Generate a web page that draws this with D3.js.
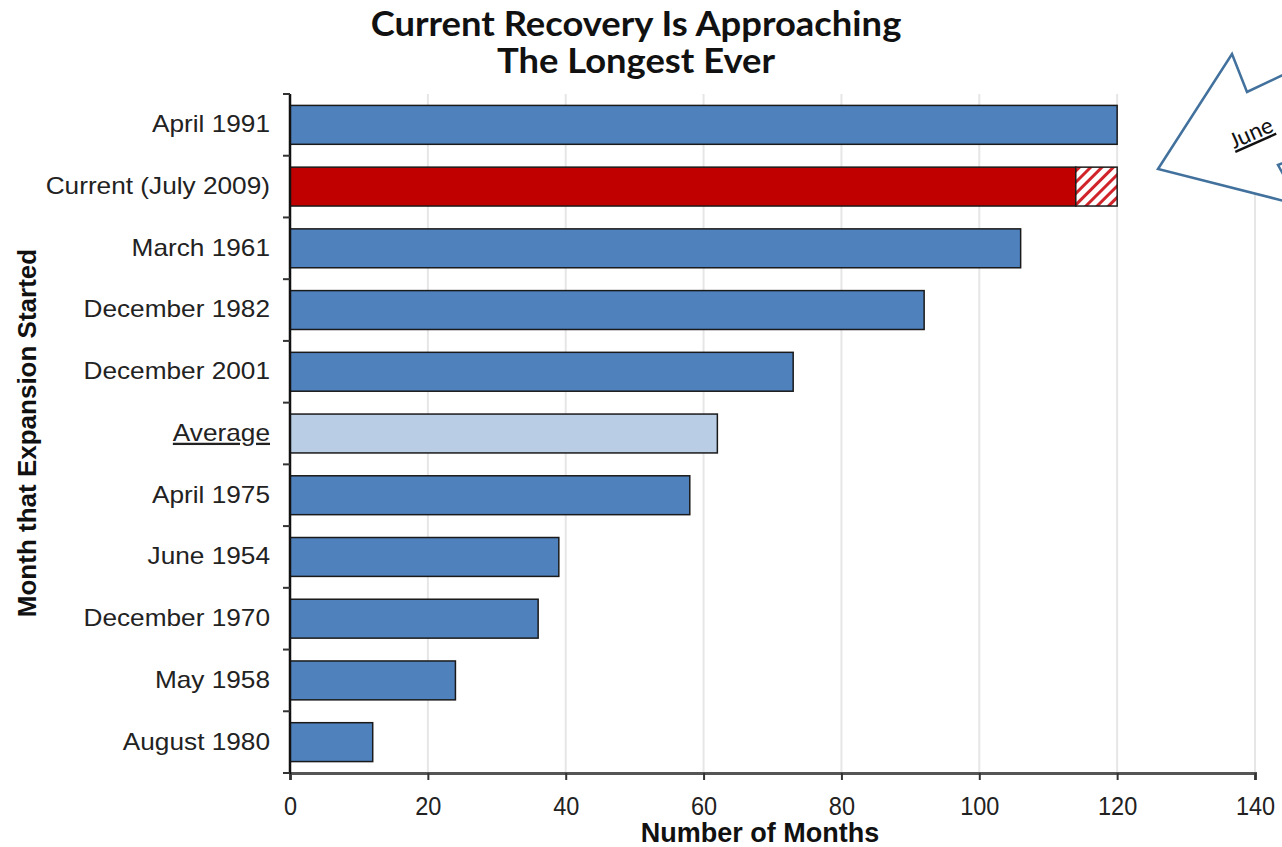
<!DOCTYPE html>
<html>
<head>
<meta charset="utf-8">
<script src="https://cdn.jsdelivr.net/npm/d3@7"></script>
<style>
  html, body { margin: 0; padding: 0; background: #fff; }
  svg { display: block; }
</style>
</head>
<body>
<svg id="chart" width="1282" height="847"></svg>
<script>
// data
var categories = ["April 1991", "Current (July 2009)", "March 1961", "December 1982",
  "December 2001", "Average", "April 1975", "June 1954", "December 1970", "May 1958", "August 1980"];
var months = [120, 114, 106, 92, 73, 62, 58, 39, 36, 24, 12];
var currentProjected = 120; // hatched part of the current bar
var xTicks = [0, 20, 40, 60, 80, 100, 120, 140];
var titleLines = ["Current Recovery Is Approaching", "The Longest Ever"];

var svg = d3.select("#chart");
var W = 1282, H = 847;
svg.append("rect").attr("width", W).attr("height", H).attr("fill", "#fff");

var x = d3.scaleLinear().domain([0, 140]).range([290, 1255]);
var y = d3.scaleBand().domain(categories).range([94, 773])
  .paddingInner(0.37).paddingOuter(0.185);

// hatch pattern
var defs = svg.append("defs");
var pat = defs.append("pattern").attr("id", "hatch")
  .attr("patternUnits", "userSpaceOnUse").attr("width", 8).attr("height", 8)
  .attr("patternTransform", "rotate(45)");
pat.append("rect").attr("width", 8).attr("height", 8).attr("fill", "#fff");
pat.append("rect").attr("x", 0).attr("width", 3).attr("height", 8).attr("fill", "#d0232a");

// gridlines
svg.append("g").selectAll("line").data(xTicks.slice(1)).enter().append("line")
  .attr("x1", function(d) { return x(d); }).attr("x2", function(d) { return x(d); })
  .attr("y1", 94).attr("y2", 773)
  .attr("stroke", "#e6e6e6").attr("stroke-width", 2);

function barColor(c) {
  if (c.indexOf("Current") === 0) return "#c00000";
  if (c === "Average") return "#b9cde5";
  return "#4f81bd";
}

// bars
svg.append("g").selectAll("rect").data(categories).enter().append("rect")
  .attr("x", x(0))
  .attr("y", function(d) { return y(d); })
  .attr("width", function(d, i) { return x(months[i]) - x(0); })
  .attr("height", y.bandwidth())
  .attr("fill", barColor)
  .attr("stroke", "#1a1a1a").attr("stroke-width", 1.5);

// projected hatch on current bar
var cur = categories[1];
svg.append("rect")
  .attr("x", x(months[1])).attr("y", y(cur))
  .attr("width", x(currentProjected) - x(months[1])).attr("height", y.bandwidth())
  .attr("fill", "url(#hatch)").attr("stroke", "#1a1a1a").attr("stroke-width", 1.5);

// x axis
var xAxis = svg.append("g").attr("transform", "translate(0,773)")
  .call(d3.axisBottom(x).tickValues(xTicks).tickSize(7).tickPadding(17));
xAxis.select(".domain").attr("stroke", "#555").attr("stroke-width", 3);
xAxis.selectAll(".tick line").attr("stroke", "#333").attr("stroke-width", 2);
xAxis.selectAll(".tick text")
  .attr("font-family", "Liberation Sans, Arial, sans-serif")
  .attr("font-size", 25).attr("fill", "#222")
  .attr("transform", "scale(0.94,1)");

// y axis labels (source text is a bit wider than Arial)
var sx = 1.14;
var yAxis = svg.append("g").attr("transform", "translate(290,0)")
  .call(d3.axisLeft(y).tickSize(0).tickPadding(20));
yAxis.select(".domain").remove();
yAxis.selectAll(".tick text")
  .attr("x", -20 / sx)
  .attr("transform", "scale(" + sx + ",1)")
  .attr("font-family", "Liberation Sans, Arial, sans-serif")
  .attr("font-size", 23).attr("fill", "#222")
  .style("text-decoration", function(d) { return d === "Average" ? "underline" : null; });

// y axis line + boundary ticks
var bounds = d3.range(categories.length + 1).map(function(i) { return y.range()[0] + i * y.step(); });
svg.append("line").attr("x1", 290).attr("x2", 290).attr("y1", 94).attr("y2", 774)
  .attr("stroke", "#111").attr("stroke-width", 2.5);
svg.append("g").selectAll("line").data(bounds).enter().append("line")
  .attr("x1", 283).attr("x2", 290)
  .attr("y1", function(d) { return d; }).attr("y2", function(d) { return d; })
  .attr("stroke", "#333").attr("stroke-width", 2);

// axis titles
svg.append("text").attr("x", 760).attr("y", 842).attr("text-anchor", "middle")
  .attr("font-family", "Liberation Sans, Arial, sans-serif")
  .attr("font-weight", "bold").attr("font-size", 27).attr("fill", "#111")
  .text("Number of Months");
svg.append("text").attr("transform", "translate(36,433) rotate(-90)").attr("text-anchor", "middle")
  .attr("font-family", "Liberation Sans, Arial, sans-serif")
  .attr("font-weight", "bold").attr("font-size", 26).attr("fill", "#111")
  .text("Month that Expansion Started");

// title
svg.append("g").selectAll("text").data(titleLines).enter().append("text")
  .attr("transform", function(d, i) { return "translate(636," + (36 + i * 37) + ") scale(1.07,1)"; })
  .attr("text-anchor", "middle")
  .attr("font-family", "Lato, 'Open Sans', sans-serif")
  .attr("font-weight", "bold").attr("font-size", 34).attr("fill", "#111")
  .text(function(d) { return d; });

// callout arrow (cut off at the right edge)
var callout = [[1158, 169], [1232, 54], [1247, 92], [1420, 10], [1440, 100], [1278, 165], [1300, 205]];
svg.append("path").attr("d", d3.line()(callout) + "Z")
  .attr("fill", "#fff").attr("stroke", "#41719c").attr("stroke-width", 2.5);
svg.append("text").attr("transform", "translate(1234,149) rotate(-24)")
  .attr("font-family", "Carlito, Calibri, 'Open Sans', sans-serif")
  .attr("font-size", 24).attr("fill", "#111")
  .style("text-decoration", "underline")
  .text("June");
</script>
</body>
</html>
